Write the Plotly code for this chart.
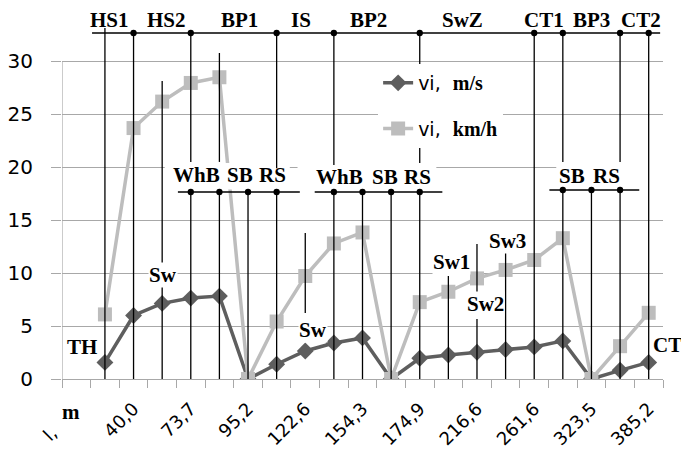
import plotly.graph_objects as go

# ---------------- data ----------------
categories = list(range(1, 21))          # category index of each measured point
vi_ms = [1.57, 6.0, 7.14, 7.64, 7.83, 0, 1.39, 2.65, 3.4, 3.88,
         0, 1.96, 2.27, 2.52, 2.78, 3.03, 3.6, 0, 0.82, 1.57]
vi_kmh = [6.1, 23.7, 26.2, 27.96, 28.5, 0, 5.43, 9.73, 12.8, 13.84,
          0, 7.26, 8.24, 9.5, 10.3, 11.24, 13.3, 0, 3.1, 6.25]
tick_positions = [0, 2, 4, 6, 8, 10, 12, 14, 16, 18, 20]
tick_labels = ["l,\u00a0\u00a0\u00a0\u00a0\u00a0\u00a0", "40,0", "73,7", "95,2", "122,6", "154,3",
               "174,9", "216,6", "261,6", "323,5", "385,2"]
y_ticks = [0, 5, 10, 15, 20, 25, 30]

# top-row markers
top_labels = ["HS1", "HS2", "BP1", "IS", "BP2", "SwZ", "CT1", "BP3", "CT2"]
top_label_pos = [1.17, 3.16, 5.71, 7.84, 10.21, 13.49, 16.35, 17.99, 19.74]
top_dots = [2, 4, 7, 9, 12, 16, 17, 19, 20]

# second-row groups
grp_labels = ["WhB", "SB", "RS", "WhB", "SB", "RS", "SB", "RS"]
grp_label_pos = [4.21, 5.71, 6.86, 9.2, 10.77, 11.92, 17.33, 18.52]
grp_dots_1 = [4, 5, 6, 7]
grp_dots_2 = [9, 10, 11, 12]
grp_dots_3 = [17, 18, 19]

# other labels
misc_labels = ["TH", "Sw", "Sw", "Sw1", "Sw2", "Sw3"]
misc_x = [0.2, 3.02, 8.26, 13.11, 14.29, 15.06]
misc_y = [3.02, 9.82, 4.63, 11.05, 7.08, 13.03]

# vertical black marker segments: (category, y_top, y_bottom)
segments = [
    (1, 33.15, 0), (2, 32.68, 0), (3, 28.15, 0),
    (4, 32.68, 20.5), (4, 17.66, 0),
    (5, 30.79, 20.5), (5, 17.66, 0),
    (6, 17.66, 0),
    (7, 32.68, 19.9), (7, 17.66, 0),
    (8, 13.79, 6.23),
    (9, 32.68, 20.2), (9, 17.66, 0),
    (10, 17.66, 0), (11, 17.66, 0),
    (12, 32.68, 20.4), (12, 17.66, 0),
    (13, 9.73, 0),
    (14, 12.75, 7.93), (14, 5.67, 0),
    (15, 12.0, 0),
    (16, 32.68, 0),
    (17, 32.68, 20.5), (17, 17.85, 0),
    (18, 17.85, 0),
    (19, 32.68, 20.5), (19, 17.85, 0),
    (20, 32.68, 0),
]

DARK = "#5e5e5e"
LIGHT = "#bdbdbd"
GRID = "#a8a8a8"
SERIF = "Liberation Serif"
SANS = "DejaVu Sans"
LBL = 21

fig = go.Figure()
fig.add_trace(go.Scatter(
    x=categories, y=vi_ms, mode="lines+markers",
    name="vi,&nbsp; <span style='font-family:Liberation Serif;font-weight:bold;font-size:20px'>m/s</span>",
    line=dict(color=DARK, width=3.5),
    marker=dict(symbol="diamond", size=13, color=DARK),
    legendgroup="a",
))
fig.add_trace(go.Scatter(
    x=categories, y=vi_kmh, mode="lines+markers",
    name="vi,&nbsp; <span style='font-family:Liberation Serif;font-weight:bold;font-size:20px'>km/h</span>",
    line=dict(color=LIGHT, width=3.5),
    marker=dict(symbol="square", size=14, color=LIGHT),
    legendgroup="b",
))

shapes = []
shapes.append(dict(type="line", xref="x", yref="y", x0=-0.5, x1=-0.5, y0=0, y1=30,
                   line=dict(color=GRID, width=1.2), layer="below"))
for x0, x1, y0, y1 in [(3.09, 7.46, 17.9, 20.4), (7.73, 12.58, 17.9, 20.4), (16.77, 20.5, 18.1, 20.5)]:
    shapes.append(dict(type="rect", xref="x", yref="y", x0=x0, x1=x1, y0=y0, y1=y1,
                       fillcolor="white", line=dict(width=0), layer="above"))
for x0, x1, yy in [(0.55, 20.4, 32.68), (3.55, 7.81, 17.66), (8.33, 12.79, 17.66), (16.53, 19.67, 17.85)]:
    shapes.append(dict(type="line", xref="x", yref="y", x0=x0, x1=x1, y0=yy, y1=yy,
                       line=dict(color="black", width=1.3), layer="above"))
for c, yt, yb in segments:
    shapes.append(dict(type="line", xref="x", yref="y", x0=c, x1=c, y0=yb, y1=yt,
                       line=dict(color="black", width=1.3), layer="above"))
dx, dy = 0.11, 0.3
for row, yy in [(top_dots, 32.68), (grp_dots_1, 17.66), (grp_dots_2, 17.66), (grp_dots_3, 17.85)]:
    for c in row:
        shapes.append(dict(type="circle", xref="x", yref="y", x0=c - dx, x1=c + dx,
                           y0=yy - dy, y1=yy + dy, fillcolor="black",
                           line=dict(color="black", width=0), layer="above"))

serif_font = dict(family=SERIF, size=LBL, color="black")
anc = dict(showarrow=False, xanchor="center", yanchor="middle", font=serif_font)
annotations = []
for t, xx in zip(top_labels, top_label_pos):
    annotations.append(dict(x=xx, y=0.998, xref="x", yref="paper", text="<b>%s</b>" % t, **anc))
for i, (t, xx) in enumerate(zip(grp_labels, grp_label_pos)):
    yy = 19.27 if i < 3 else (19.08 if i < 6 else 19.17)
    annotations.append(dict(x=xx, y=yy, xref="x", yref="y", text="<b>%s</b>" % t, **anc))
for t, xx, yy in zip(misc_labels, misc_x, misc_y):
    annotations.append(dict(x=xx, y=yy, xref="x", yref="y", text="<b>%s</b>" % t,
                            bgcolor="white", borderpad=0, **anc))
annotations.append(dict(x=1.008, y=3.21, xref="paper", yref="y", text="<b>CT</b>", **anc))
annotations.append(dict(x=-0.19, y=-0.092, xref="x", yref="paper", text="<b>m</b>", **anc))

# the page body adds an 8px offset, so the figure is 8px smaller than the window
fig.update_layout(
    width=681, height=442,
    margin=dict(l=54, r=26, t=11, b=71, autoexpand=False),
    paper_bgcolor="white", plot_bgcolor="white",
    font=dict(family=SANS, size=19, color="black"),
    showlegend=True,
    legend=dict(x=0.526, y=0.875, xanchor="left", yanchor="top",
                bgcolor="white", traceorder="grouped", tracegroupgap=18,
                font=dict(family=SANS, size=19, color="black")),
    xaxis=dict(range=[-0.5, 20.5], showgrid=False, zeroline=False, automargin=False,
               showline=True, linecolor=GRID, linewidth=1.2,
               tickmode="array", tickvals=tick_positions, ticktext=tick_labels,
               tickangle=-45, ticks="", ticklabelstandoff=11,
               tickfont=dict(family=SANS, size=18, color="black"),
               minor=dict(tickmode="array", tickvals=[i - 0.5 for i in range(22)],
                          ticks="outside", ticklen=8, tickcolor=GRID, tickwidth=1.2,
                          showgrid=False)),
    yaxis=dict(range=[0, 34], showgrid=True, gridcolor=GRID, gridwidth=1.2,
               zeroline=False, showline=False, automargin=False,
               tickmode="array", tickvals=y_ticks, ticks="outside", ticklen=10,
               tickcolor=GRID, tickwidth=1.2, ticklabelstandoff=14,
               tickfont=dict(family=SANS, size=20, color="black")),
    shapes=shapes, annotations=annotations,
)

fig.write_html("out.html")
